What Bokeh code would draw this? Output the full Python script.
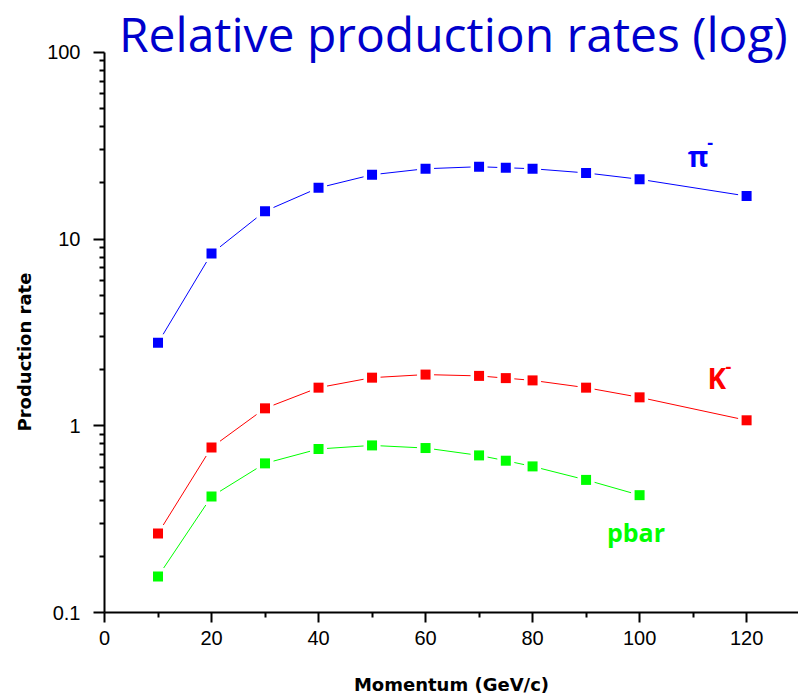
import math

from bokeh.plotting import figure
from bokeh.models import Range1d, FixedTicker, Label, BasicTickFormatter, Title
from bokeh.embed import file_html
from bokeh.resources import INLINE

# Momentum points (GeV/c) and relative production rates
momentum = [10, 20, 30, 40, 50, 60, 70, 75, 80, 90, 100, 120]
pi_minus = [2.78, 8.36, 14.1, 18.8, 22.1, 23.8, 24.4, 24.1, 23.8, 22.6, 20.9, 17.0]
k_minus = [0.265, 0.766, 1.24, 1.60, 1.81, 1.88, 1.85, 1.80, 1.75, 1.60, 1.42, 1.07]
pbar_momentum = [10, 20, 30, 40, 50, 60, 70, 75, 80, 90, 100]
pbar = [0.156, 0.418, 0.629, 0.751, 0.785, 0.760, 0.694, 0.650, 0.606, 0.513, 0.425]

x_major = [0, 20, 40, 60, 80, 100, 120]
x_minor = [10, 30, 50, 70, 90, 110]
y_major = [0.1, 1, 10, 100]

FONT = "Open Sans"
LABEL_FONT = "DejaVu Sans"

# The frame reaches the top of the canvas so the big title can sit inside it;
# the y axis itself stops at 100.
p = figure(
    width=798, height=697,
    x_range=Range1d(0, 129.7), y_range=Range1d(0.1, 189.5),
    y_axis_type="log",
    output_backend="svg", toolbar_location=None,
    min_border_left=104, min_border_right=0,
    min_border_top=0, min_border_bottom=84,
)
p.title = None
p.outline_line_color = None
p.xgrid.visible = False
p.ygrid.visible = False
p.background_fill_color = "white"
p.border_fill_color = "white"

y_minor = [m * d for d in (0.1, 1, 10) for m in range(2, 10)]

for ax in (p.xaxis[0], p.yaxis[0]):
    ax.axis_line_width = 2
    ax.axis_line_color = "black"
    ax.major_tick_line_width = 2
    ax.minor_tick_line_width = 2
    ax.major_tick_in = 0
    ax.minor_tick_in = 0
    ax.major_label_text_font = "Liberation Sans"
    ax.major_label_text_font_size = "20px"
    ax.major_label_text_color = "black"

p.xaxis.ticker = FixedTicker(ticks=x_major, minor_ticks=x_minor)
p.xaxis.major_tick_out = 10
p.xaxis.minor_tick_out = 5
p.xaxis.major_label_standoff = 8
p.xaxis.axis_label = "Momentum (GeV/c)"
p.xaxis.axis_label_text_font = LABEL_FONT
p.xaxis.axis_label_text_font_style = "bold"
p.xaxis.axis_label_text_font_size = "18px"
p.xaxis.axis_label_text_color = "black"
p.xaxis.axis_label_standoff = 26

p.yaxis.ticker = FixedTicker(ticks=y_major, minor_ticks=y_minor)
p.yaxis.bounds = (0.1, 100)
p.yaxis.formatter = BasicTickFormatter(use_scientific=False)
p.yaxis.major_tick_out = 11
p.yaxis.minor_tick_out = 5
p.yaxis.major_label_standoff = 13

p.add_layout(Title(text="Production rate", align="left", offset=181, standoff=20,
                   text_font=LABEL_FONT, text_font_style="bold", text_font_size="18px",
                   text_color="black"), "left")

series = [
    (momentum, pi_minus, "#0000FF"),
    (momentum, k_minus, "#FF0000"),
    (pbar_momentum, pbar, "#00FF00"),
]

for xs, ys, color in series:
    p.line(xs, ys, line_color=color, line_width=1)
    # white halo leaves a small gap between the line and each marker
    p.scatter(xs, ys, marker="square", size=17, fill_color="white", line_color=None)
    p.scatter(xs, ys, marker="square", size=10, fill_color=color, line_color=None)

# Title
p.add_layout(Label(x=2.7, y=125.7, text="Relative production rates (log)",
                   text_font=FONT, text_font_size="48px", text_color="#0000CC",
                   text_baseline="middle", text_align="left"))

# Series names
p.add_layout(Label(x=109.0, y=27.9, text="π", text_font=FONT, text_font_style="bold",
                   text_font_size="28px", text_color="#0000FF", text_baseline="alphabetic"))
p.add_layout(Label(x=113.2, y=33.0, text="-", text_font=FONT, text_font_style="bold",
                   text_font_size="18px", text_color="#0000FF", text_align="center",
                   text_baseline="alphabetic"))
p.add_layout(Label(x=112.7, y=1.80, text="K", text_font=FONT, text_font_style="bold",
                   text_font_size="28px", text_color="#FF0000", text_baseline="alphabetic"))
p.add_layout(Label(x=116.6, y=2.09, text="-", text_font=FONT, text_font_style="bold",
                   text_font_size="18px", text_color="#FF0000", text_align="center",
                   text_baseline="alphabetic"))
p.add_layout(Label(x=93.9, y=0.27, text="pbar", text_font=FONT, text_font_style="bold",
                   text_font_size="25px", text_color="#00FF00", text_baseline="alphabetic"))

open("out.html", "w").write(file_html(p, INLINE))
